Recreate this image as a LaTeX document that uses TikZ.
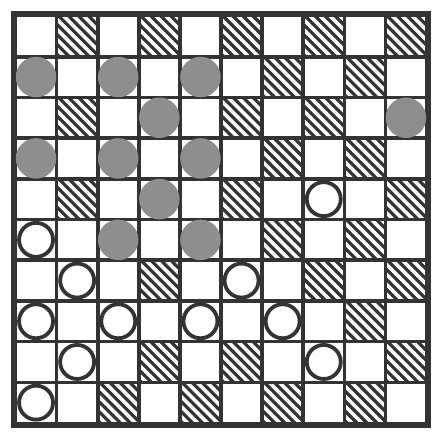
\documentclass[tikz,border=0pt]{standalone}
\definecolor{ink}{HTML}{333333}
\definecolor{stone}{HTML}{8E8E8E}
\tikzset{
  gridline/.style={line width=3.6pt,draw=ink},
  frameline/.style={line width=6.5pt,draw=ink},
  hatchline/.style={line width=3.2pt,draw=ink},
  greypiece/.style={circle,fill=stone,minimum size=40.5pt,inner sep=0pt},
  whitepiece/.style={circle,fill=white,draw=ink,line width=3.8pt,minimum size=34pt,inner sep=0pt}
}
\begin{document}
\begin{tikzpicture}[x=1pt,y=-1pt]
\useasboundingbox (0,0) rectangle (434,434);
\fill[white] (0,0) rectangle (434,434);
\def\cw{41.1}\def\ch{40.7}\def\ox{15.5}\def\oy{16}
% hatched dark squares (row/col)
\foreach \r/\c in {0/1,0/3,0/5,0/7,0/9,1/6,1/8,2/1,2/5,2/7,3/6,3/8,4/1,4/5,4/9,5/6,5/8,6/3,6/7,6/9,7/8,8/3,8/5,8/9,9/2,9/4,9/6,9/8}{
  \begin{scope}
    \clip ({\ox+\c*\cw},{\oy+\r*\ch}) rectangle ++(\cw,\ch);
    \foreach \k in {-50,-40,...,45}{
      \draw[hatchline] ({\ox+\c*\cw+\k},{\oy+\r*\ch-2}) -- ++(55,55);
    }
  \end{scope}
}
% grid
\foreach \i in {1,...,9}{
  \draw[gridline] ({\ox+\i*\cw},\oy) -- ({\ox+\i*\cw},{\oy+10*\ch});
  \draw[gridline] (\ox,{\oy+\i*\ch}) -- ({\ox+10*\cw},{\oy+\i*\ch});
}
\draw[frameline] ({\ox-1.5},{\oy-2}) rectangle ({\ox+10*\cw+1.5},{\oy+10*\ch+2});
% grey pieces
\foreach \r/\c [count=\n] in {1/0,1/2,1/4,2/3,2/9,3/0,3/2,3/4,4/3,5/2,5/4}{
  \node[greypiece] (g\n) at ({\ox+(\c+0.5)*\cw},{\oy+(\r+0.5)*\ch}) {};
}
% white pieces
\foreach \r/\c [count=\n] in {4/7,5/0,6/1,6/5,7/0,7/2,7/4,7/6,8/1,8/7,9/0}{
  \node[whitepiece] (w\n) at ({\ox+(\c+0.5)*\cw},{\oy+(\r+0.5)*\ch}) {};
}
\end{tikzpicture}
\end{document}
